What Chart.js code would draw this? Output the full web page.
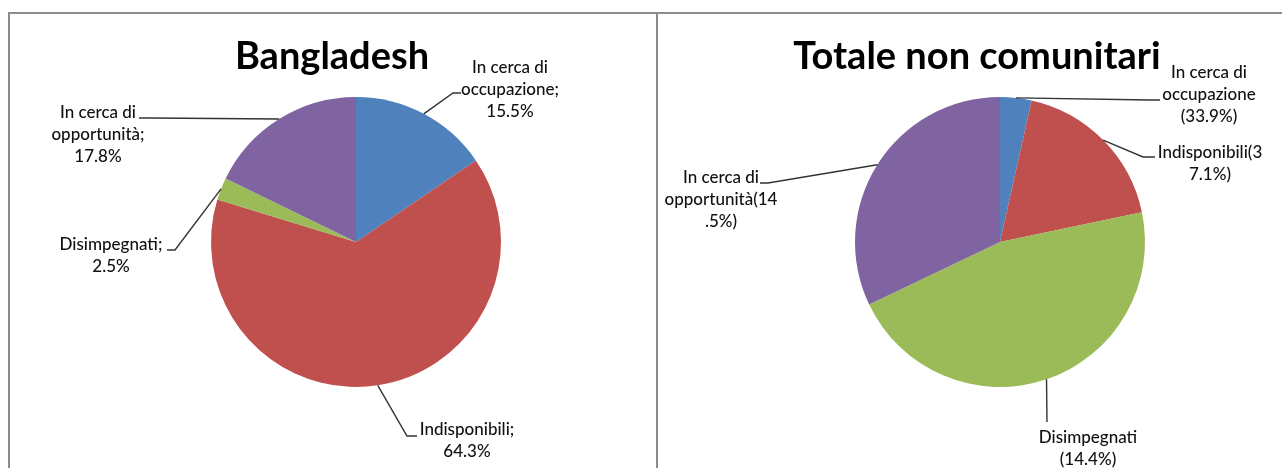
<!DOCTYPE html>
<html>
<head>
<meta charset="utf-8">
<script src="https://cdn.jsdelivr.net/npm/chart.js@4"></script>
<style>
  body { margin: 0; background: #fff; width: 1282px; height: 468px; overflow: hidden; position: relative; }
  .frame { position: absolute; left: 8px; top: 12px; width: 1290px; height: 470px;
           border-left: 2px solid #8c8c8c; border-top: 2px solid #8c8c8c; }
  .divider { position: absolute; left: 656px; top: 12px; width: 2px; height: 470px; background: #8c8c8c; }
  canvas { position: absolute; top: 0; }
</style>
</head>
<body>
<div class="frame"></div>
<div class="divider"></div>
<canvas id="chart1" width="657" height="468" style="left:0"></canvas>
<canvas id="chart2" width="625" height="468" style="left:657px"></canvas>

<script>
    const categories = ["In cerca di occupazione", "Indisponibili", "Disimpegnati", "In cerca di opportunità"];
    const sliceColors = ["#4f81bd", "#c0504d", "#9bbb59", "#8064a2"];

    const bangladeshValues = [15.5, 64.3, 2.5, 17.8];
    const bangladeshLabels = [
        ["In cerca di", "occupazione;", "15.5%"],
        ["Indisponibili;", "64.3%"],
        ["Disimpegnati;", "2.5%"],
        ["In cerca di", "opportunità;", "17.8%"]
    ];

    // slice sizes as drawn in the picture (the printed labels don't match them)
    const totaleValues = [3.5, 18.2, 46.2, 32.1];
    const totaleLabels = [
        ["In cerca di", "occupazione", "(33.9%)"],
        ["Indisponibili(3", "7.1%)"],
        ["Disimpegnati", "(14.4%)"],
        ["In cerca di", "opportunità(14", ".5%)"]
    ];

    // callout placement, offsets from the pie centre
    const bangladeshCallouts = [
        { text: [154, -174], elbow: [97, -149], end: 105 },
        { text: [111, 188], elbow: [51, 194], end: 61 },
        { text: [-245, 3], elbow: [-181, 8], end: -189 },
        { text: [-258, -129], elbow: [-206, -124], end: -217 }
    ];
    const totaleCallouts = [
        { text: [209, -169], elbow: [150, -142], end: 160 },
        { text: [210, -89], elbow: [143, -85], end: 155 },
        { text: [88, 196], elbow: [47, 180], end: 47 },
        { text: [-279, -64], elbow: [-232, -59], end: -240 }
    ];

    const callouts = {
        id: 'callouts',
        afterDatasetsDraw(chart, args, opts) {
            const ctx = chart.ctx;
            const meta = chart.getDatasetMeta(0);
            ctx.save();
            meta.data.forEach((arc, i) => {
                const { x, y, startAngle, endAngle, outerRadius } =
                    arc.getProps(['x', 'y', 'startAngle', 'endAngle', 'outerRadius'], true);
                const mid = (startAngle + endAngle) / 2;
                const sx = x + Math.cos(mid) * outerRadius;
                const sy = y + Math.sin(mid) * outerRadius;
                const p = opts.layout[i];

                ctx.strokeStyle = '#333';
                ctx.lineWidth = 1.4;
                ctx.beginPath();
                ctx.moveTo(sx, sy);
                ctx.lineTo(x + p.elbow[0], y + p.elbow[1]);
                ctx.lineTo(x + p.end, y + p.elbow[1]);
                ctx.stroke();

                ctx.fillStyle = '#111';
                ctx.font = '500 17px Lato';
                ctx.textAlign = 'center';
                ctx.textBaseline = 'middle';
                opts.texts[i].forEach((t, k) => ctx.fillText(t, x + p.text[0], y + p.text[1] + k * 22));
            });

            ctx.font = 'bold 38px Lato';
            ctx.fillStyle = '#000';
            ctx.textAlign = 'center';
            ctx.textBaseline = 'alphabetic';
            ctx.fillText(opts.title, opts.titleX, 69);
            ctx.restore();
        }
    };

    function make_pie(id, values, texts, layout, title, titleX, padding) {
        new Chart(document.getElementById(id), {
            type: 'pie',
            data: {
                labels: categories,
                datasets: [{
                    data: values,
                    backgroundColor: sliceColors,
                    borderWidth: 0,
                    hoverOffset: 0
                }]
            },
            options: {
                responsive: false,
                animation: false,
                layout: { padding: padding },
                events: [],
                plugins: {
                    legend: { display: false },
                    tooltip: { enabled: false },
                    callouts: { texts: texts, layout: layout, title: title, titleX: titleX }
                }
            },
            plugins: [callouts]
        });
    }

    make_pie('chart1', bangladeshValues, bangladeshLabels, bangladeshCallouts,
        'Bangladesh', 332, { left: 211, right: 156, top: 97, bottom: 81 });
    make_pie('chart2', totaleValues, totaleLabels, totaleCallouts,
        'Totale non comunitari', 320, { left: 198, right: 137, top: 97, bottom: 81 });
</script>
</body>
</html>
